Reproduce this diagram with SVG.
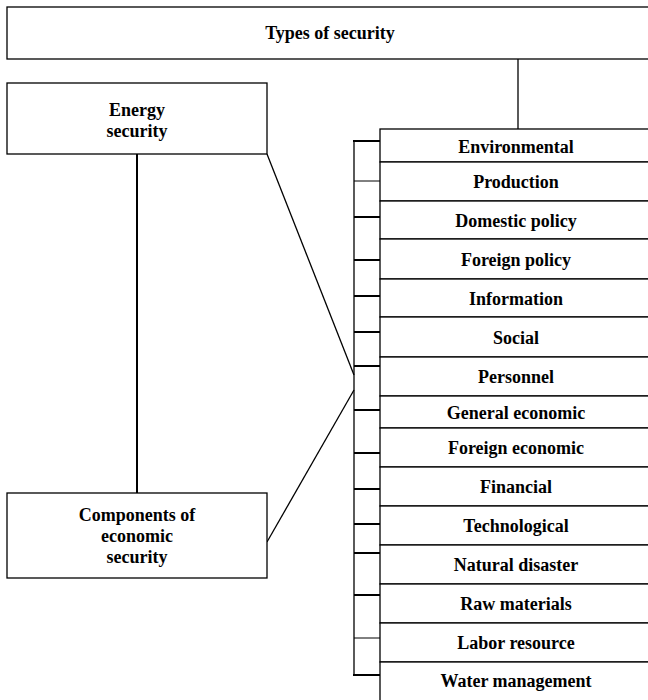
<svg xmlns="http://www.w3.org/2000/svg" width="648" height="700" viewBox="0 0 648 700">
<style>
.box{fill:#fff;stroke:#000;stroke-width:1.3}
.t{font-family:"Liberation Serif","Times New Roman",serif;font-weight:bold;font-size:18px;fill:#000;text-anchor:middle}
.ln{stroke:#000;stroke-width:1.3;fill:none}
.tk{stroke:#000;stroke-width:2;fill:none}
.tk1{stroke:#000;stroke-width:1;fill:none}
</style>
<rect width="648" height="700" fill="#fff"/>
<g id="connectors">
<line class="ln" x1="518" y1="59" x2="518" y2="129"/>
<line x1="137" y1="154" x2="137" y2="493" stroke="#000" stroke-width="2"/>
<line class="ln" x1="267" y1="154" x2="354" y2="375"/>
<line class="ln" x1="267" y1="542" x2="354" y2="390"/>
<line class="ln" x1="354" y1="141" x2="354" y2="675"/>
<line class="tk" x1="353" y1="141" x2="381" y2="141"/>
<line class="tk1" x1="354" y1="181" x2="380" y2="181"/>
<line class="tk" x1="354" y1="217" x2="380" y2="217"/>
<line class="tk" x1="354" y1="260" x2="380" y2="260"/>
<line class="tk" x1="354" y1="296" x2="380" y2="296"/>
<line class="tk" x1="354" y1="332" x2="380" y2="332"/>
<line class="tk" x1="354" y1="366" x2="380" y2="366"/>
<line class="tk" x1="354" y1="410" x2="380" y2="410"/>
<line class="tk" x1="354" y1="453" x2="380" y2="453"/>
<line class="tk" x1="354" y1="489" x2="380" y2="489"/>
<line class="tk" x1="354" y1="524" x2="380" y2="524"/>
<line class="tk" x1="354" y1="553" x2="380" y2="553"/>
<line class="tk" x1="354" y1="595" x2="380" y2="595"/>
<line class="tk1" x1="354" y1="638" x2="380" y2="638"/>
<line class="tk" x1="353" y1="675" x2="380" y2="675"/>
</g>
<g id="types"><rect class="box" x="7" y="7" width="660" height="52"/><text class="t" x="330" y="39">Types of security</text></g>
<g id="energy"><rect class="box" x="7" y="83" width="260" height="71"/><text class="t" x="137" y="116">Energy</text><text class="t" x="137" y="137">security</text></g>
<g id="components"><rect class="box" x="7" y="493" width="260" height="85"/><text class="t" x="137" y="521">Components of</text><text class="t" x="137" y="542">economic</text><text class="t" x="137" y="563">security</text></g>
<g id="environmental"><rect class="box" x="380" y="129" width="280" height="33"/><text class="t" x="516" y="153">Environmental</text></g>
<g id="production"><rect class="box" x="380" y="162" width="280" height="39"/><text class="t" x="516" y="188">Production</text></g>
<g id="domestic"><rect class="box" x="380" y="201" width="280" height="38"/><text class="t" x="516" y="227">Domestic policy</text></g>
<g id="foreignpolicy"><rect class="box" x="380" y="239" width="280" height="40"/><text class="t" x="516" y="266">Foreign policy</text></g>
<g id="information"><rect class="box" x="380" y="279" width="280" height="38"/><text class="t" x="516" y="305">Information</text></g>
<g id="social"><rect class="box" x="380" y="317" width="280" height="40"/><text class="t" x="516" y="344">Social</text></g>
<g id="personnel"><rect class="box" x="380" y="357" width="280" height="39"/><text class="t" x="516" y="383">Personnel</text></g>
<g id="generaleconomic"><rect class="box" x="380" y="396" width="280" height="32"/><text class="t" x="516" y="419">General economic</text></g>
<g id="foreigneconomic"><rect class="box" x="380" y="428" width="280" height="39"/><text class="t" x="516" y="454">Foreign economic</text></g>
<g id="financial"><rect class="box" x="380" y="467" width="280" height="39"/><text class="t" x="516" y="493">Financial</text></g>
<g id="technological"><rect class="box" x="380" y="506" width="280" height="39"/><text class="t" x="516" y="532">Technological</text></g>
<g id="natural"><rect class="box" x="380" y="545" width="280" height="39"/><text class="t" x="516" y="571">Natural disaster</text></g>
<g id="raw"><rect class="box" x="380" y="584" width="280" height="39"/><text class="t" x="516" y="610">Raw materials</text></g>
<g id="labor"><rect class="box" x="380" y="623" width="280" height="39"/><text class="t" x="516" y="649">Labor resource</text></g>
<g id="water"><rect class="box" x="380" y="662" width="280" height="60"/><text class="t" x="516" y="687">Water management</text></g>
</svg>
